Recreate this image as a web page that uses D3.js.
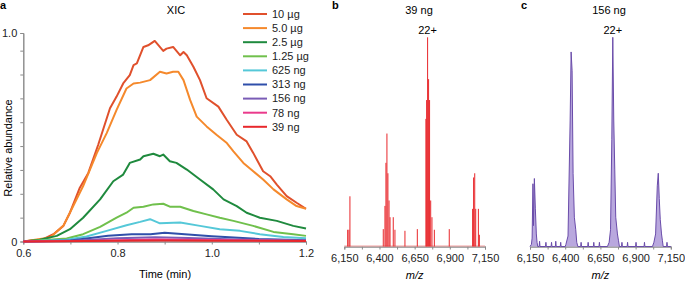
<!DOCTYPE html>
<html>
<head>
<meta charset="utf-8">
<style>
  body { margin: 0; background: #fff; }
  svg { font-family: "Liberation Sans", Arial, sans-serif; }
</style>
</head>
<body>
<script src="https://d3js.org/d3.v7.min.js"></script>
<script>
// ---- panel a: XIC traces, [time, relative abundance] ----
const s10ug = [[0.6,0],[0.642,0.011],[0.664,0.035],[0.685,0.075],[0.699,0.138],[0.72,0.258],[0.738,0.329],[0.759,0.464],[0.784,0.639],[0.798,0.695],[0.812,0.758],[0.826,0.798],[0.834,0.846],[0.841,0.854],[0.855,0.933],[0.865,0.941],[0.879,0.962],[0.897,0.914],[0.904,0.925],[0.918,0.933],[0.933,0.893],[0.94,0.909],[0.947,0.893],[0.961,0.838],[0.975,0.774],[0.989,0.687],[1.014,0.647],[1.032,0.583],[1.053,0.512],[1.074,0.48],[1.088,0.425],[1.109,0.337],[1.124,0.313],[1.138,0.273],[1.159,0.218],[1.18,0.186],[1.2,0.157]];
const s5ug = [[0.6,0],[0.657,0.019],[0.685,0.075],[0.706,0.17],[0.727,0.266],[0.756,0.424],[0.777,0.52],[0.798,0.631],[0.819,0.734],[0.834,0.758],[0.848,0.762],[0.869,0.774],[0.89,0.814],[0.904,0.806],[0.918,0.814],[0.929,0.814],[0.94,0.774],[0.954,0.679],[0.968,0.599],[0.989,0.552],[1.01,0.512],[1.032,0.472],[1.046,0.432],[1.067,0.377],[1.088,0.337],[1.109,0.297],[1.131,0.25],[1.159,0.202],[1.18,0.17],[1.2,0.157]];
const s25ug = [[0.6,0],[0.635,0.008],[0.671,0.027],[0.699,0.059],[0.727,0.114],[0.763,0.202],[0.791,0.289],[0.812,0.321],[0.826,0.377],[0.848,0.393],[0.855,0.409],[0.876,0.421],[0.89,0.409],[0.897,0.417],[0.911,0.385],[0.925,0.377],[0.947,0.345],[0.975,0.297],[1.003,0.25],[1.025,0.202],[1.053,0.17],[1.074,0.138],[1.102,0.114],[1.138,0.099],[1.173,0.075],[1.2,0.062]];
const s125ug = [[0.6,0],[0.692,0.014],[0.727,0.035],[0.763,0.07],[0.798,0.114],[0.819,0.138],[0.834,0.162],[0.855,0.167],[0.876,0.178],[0.897,0.181],[0.911,0.167],[0.933,0.167],[0.961,0.146],[0.989,0.13],[1.017,0.114],[1.046,0.099],[1.088,0.075],[1.131,0.046],[1.173,0.035],[1.2,0.027]];
const s625ng = [[0.6,0],[0.692,0.008],[0.734,0.024],[0.777,0.051],[0.819,0.078],[0.848,0.094],[0.869,0.107],[0.89,0.087],[0.933,0.091],[0.975,0.075],[1.017,0.059],[1.06,0.051],[1.102,0.035],[1.152,0.022],[1.2,0.016]];
const s313ng = [[0.6,0],[0.7,0.005],[0.78,0.028],[0.83,0.035],[0.87,0.035],[0.9,0.042],[0.95,0.034],[1.0,0.025],[1.1,0.012],[1.2,0.006]];
const s156ng = [[0.6,0],[0.7,0.003],[0.8,0.015],[0.88,0.02],[0.95,0.017],[1.05,0.01],[1.2,0.004]];
const s78ng = [[0.6,0],[0.75,0.004],[0.88,0.009],[1.0,0.007],[1.2,0.003]];
const s39ng = [[0.6,0],[0.8,0.003],[0.9,0.005],[1.0,0.004],[1.2,0.002]];

const xicNames = ['10 µg','5.0 µg','2.5 µg','1.25 µg','625 ng','313 ng','156 ng','78 ng','39 ng'];
const xicSeries = [s10ug, s5ug, s25ug, s125ug, s625ng, s313ng, s156ng, s78ng, s39ng];
const xicColors = ['#e0502c','#f5892c','#1f8a3e','#70c04c','#55c8d8','#2f4faa','#7a5cb6','#ea3a8c','#e8282c'];
const timeTicks = [0.6, 0.8, 1.0, 1.2];

// ---- panel b: 39 ng centroid sticks ----
const bMz =  [6174,6183,6190,6427,6439,6446,6453,6460,6468,6475,6498,6510,6581,6669,6730,6735,6742,6749,6756,6764,6773,6790,6896,7062,7069,7077,7084,7103,7110];
const bInt = [0.08,0.08,0.24,0.083,0.194,0.40,0.54,0.35,0.22,0.14,0.14,0.08,0.075,0.083,0.61,0.70,1.0,0.80,0.70,0.22,0.14,0.08,0.083,0.18,0.33,0.35,0.18,0.18,0.056];

// ---- panel c: 156 ng profile ----
const cMz =  [6150,6160,6165,6171,6175,6181,6188,6195,6200,6205,6215,6218,6221,6260,6263,6266,6300,6303,6306,6330,6333,6336,6365,6368,6371,6400,6405,6420,6435,6442,6449,6456,6465,6475,6482,6490,6510,6513,6516,6560,6563,6566,6600,6603,6606,6640,6643,6646,6700,6712,6722,6731,6738,6745,6752,6759,6771,6778,6785,6800,6803,6806,6840,6843,6846,6900,6903,6906,6960,6963,6966,7020,7030,7042,7054,7061,7068,7075,7084,7090,7096,7120,7123,7126,7150];
const cInt = [0,0.01,0.04,0.30,0.10,0.325,0.18,0.06,0.02,0.0,0.0,0.025,0,0,0.02,0,0,0.02,0,0,0.025,0,0,0.02,0,0,0.01,0.05,0.60,0.93,0.84,0.35,0.14,0.08,0.02,0,0,0.02,0,0,0.02,0,0,0.02,0,0,0.02,0,0,0.02,0.08,0.51,1.0,0.60,0.37,0.14,0.06,0.03,0,0,0.02,0,0,0.02,0,0,0.02,0,0,0.02,0,0,0.02,0.06,0.29,0.35,0.23,0.13,0.06,0.03,0,0,0.02,0,0];
const mzTicks = [6150, 6400, 6650, 6900, 7150];

const W = 685, H = 282;
const svg = d3.select('body').append('svg').attr('width', W).attr('height', H);
const axisCol = '#8a8a8a';

function styleAxis(g) {
  g.selectAll('.domain').attr('stroke', axisCol);
  g.selectAll('.tick line').attr('stroke', axisCol);
  g.selectAll('.tick text').attr('fill', '#222').attr('font-size', 11)
    .attr('font-family', '"Liberation Sans", Arial, sans-serif');
}

// ===== panel a =====
const xA = d3.scaleLinear().domain([0.6, 1.2]).range([23.3, 306]);
const yA = d3.scaleLinear().domain([0, 1]).range([241.5, 33]);

// minor ticks
const stepA = 1 / 8.74;
const yMinor = d3.range(1, 9).map(i => i * stepA);
svg.append('g').attr('transform', `translate(${xA.range()[0]},0)`)
  .call(d3.axisLeft(yA).tickValues(yMinor).tickSize(3).tickFormat(''))
  .call(styleAxis);
svg.append('g').attr('transform', `translate(${xA.range()[0]},0)`)
  .call(d3.axisLeft(yA).tickValues([0, 1]).tickSize(3).tickSizeOuter(0)
    .tickFormat(d => d === 0 ? '0' : d3.format('.1f')(d)))
  .call(styleAxis);
svg.append('g').attr('transform', `translate(0,${yA(0)})`)
  .call(d3.axisBottom(xA).tickValues([0.7, 0.9, 1.1]).tickSize(3).tickFormat(''))
  .call(styleAxis);
svg.append('g').attr('transform', `translate(0,${yA(0)})`)
  .call(d3.axisBottom(xA).tickValues(timeTicks).tickSize(3).tickSizeOuter(0).tickPadding(5)
    .tickFormat(d3.format('.1f')))
  .call(styleAxis);

const lineA = d3.line().x(d => xA(d[0])).y(d => yA(d[1])).curve(d3.curveLinear);
svg.append('g').selectAll('path')
  .data(xicSeries)
  .join('path')
  .attr('d', lineA)
  .attr('fill', 'none')
  .attr('stroke', (d, i) => xicColors[i])
  .attr('stroke-width', 2)
  .attr('stroke-linejoin', 'round');

// legend
const leg = svg.append('g').attr('transform', 'translate(243,14)');
const legRow = leg.selectAll('g').data(xicNames).join('g')
  .attr('transform', (d, i) => `translate(0,${i * 14.1})`);
legRow.append('line').attr('x1', 0).attr('x2', 24)
  .attr('stroke', (d, i) => xicColors[i]).attr('stroke-width', 2);
legRow.append('text').attr('x', 29).attr('dy', '0.35em')
  .attr('font-size', 11).attr('fill', '#222').text(d => d);

svg.append('text').attr('x', 176).attr('y', 14).attr('text-anchor', 'middle')
  .attr('font-size', 11).text('XIC');
svg.append('text').attr('x', 0).attr('y', 9).attr('font-size', 11)
  .attr('font-weight', 'bold').text('a');
svg.append('text').attr('x', 165).attr('y', 278).attr('text-anchor', 'middle')
  .attr('font-size', 11).text('Time (min)');
svg.append('text').attr('transform', 'translate(12,148) rotate(-90)')
  .attr('text-anchor', 'middle').attr('font-size', 11).text('Relative abundance');

// ===== panels b, c =====
function mzAxis(x, y0) {
  const minor = d3.range(6275, 7150, 250);
  svg.append('g').attr('transform', `translate(0,${y0})`)
    .call(d3.axisBottom(x).tickValues(minor).tickSize(3).tickFormat(''))
    .call(styleAxis);
  svg.append('g').attr('transform', `translate(0,${y0})`)
    .call(d3.axisBottom(x).tickValues(mzTicks).tickSize(3).tickSizeOuter(0).tickPadding(5)
      .tickFormat(d3.format(',')))
    .call(styleAxis);
  const mid = (x.range()[0] + x.range()[1]) / 2;
  const t = svg.append('text').attr('x', mid).attr('y', 279).attr('text-anchor', 'middle')
    .attr('font-size', 11).attr('font-style', 'italic');
  t.text('m/z');
}

const xB = d3.scaleLinear().domain([6150, 7150]).range([344.3, 485]);
const yB = d3.scaleLinear().domain([0, 1]).range([246.5, 37.3]);
mzAxis(xB, yB(0));
svg.append('line').attr('x1', xB(6150)).attr('x2', xB(7150))
  .attr('y1', yB(0) - 0.5).attr('y2', yB(0) - 0.5)
  .attr('stroke', '#f3a0a0').attr('stroke-width', 1);
svg.append('g').selectAll('line')
  .data(bMz)
  .join('line')
  .attr('x1', d => xB(d)).attr('x2', d => xB(d))
  .attr('y1', yB(0)).attr('y2', (d, i) => yB(bInt[i]))
  .attr('stroke', '#e8262a').attr('stroke-width', 1);
svg.append('text').attr('x', 419).attr('y', 14).attr('text-anchor', 'middle')
  .attr('font-size', 11).text('39 ng');
svg.append('text').attr('x', xB(6742)).attr('y', 34).attr('text-anchor', 'middle')
  .attr('font-size', 11).text('22+');
svg.append('text').attr('x', 332).attr('y', 9).attr('font-size', 11)
  .attr('font-weight', 'bold').text('b');

const xC = d3.scaleLinear().domain([6150, 7150]).range([530, 670.8]);
const yC = d3.scaleLinear().domain([0, 1]).range([246.5, 37.3]);
mzAxis(xC, yC(0));
const cData = cMz.map((m, i) => [m, cInt[i]]);
svg.append('path').datum(cData)
  .attr('d', d3.area().x(d => xC(d[0])).y0(yC(0)).y1(d => yC(d[1])))
  .attr('fill', '#b9a8de');
svg.append('path').datum(cData)
  .attr('d', d3.line().x(d => xC(d[0])).y(d => yC(d[1])))
  .attr('fill', 'none').attr('stroke', '#6a4caa').attr('stroke-width', 1);
svg.append('text').attr('x', 609).attr('y', 14).attr('text-anchor', 'middle')
  .attr('font-size', 11).text('156 ng');
svg.append('text').attr('x', xC(6738)).attr('y', 34).attr('text-anchor', 'middle')
  .attr('font-size', 11).text('22+');
svg.append('text').attr('x', 521).attr('y', 9).attr('font-size', 11)
  .attr('font-weight', 'bold').text('c');
</script>
</body>
</html>
